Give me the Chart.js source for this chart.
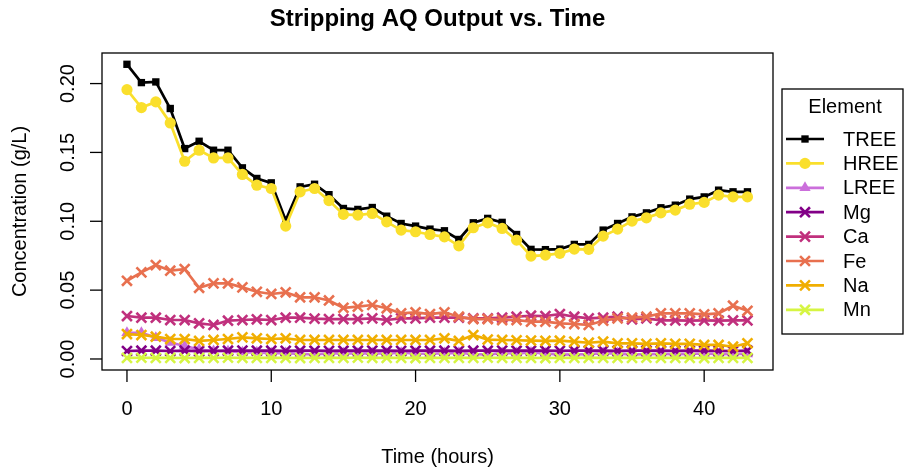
<!DOCTYPE html>
<html>
<head>
<meta charset="utf-8">
<script src="https://cdn.jsdelivr.net/npm/chart.js@4.4.0/dist/chart.umd.min.js"></script>
<style>
  html, body { margin: 0; padding: 0; background: #ffffff; }
  #wrap { width: 904px; height: 472px; position: relative; }
</style>
</head>
<body>
<div id="wrap"><canvas id="chart" width="904" height="472"></canvas></div>
<script>
// Sampling times (hours)
const hours = [0, 1, 2, 3, 4, 5, 6, 7, 8, 9, 10, 11, 12, 13, 14, 15, 16, 17, 18, 19, 20, 21,
               22, 23, 24, 25, 26, 27, 28, 29, 30, 31, 32, 33, 34, 35, 36, 37, 38, 39, 40, 41, 42, 43];

// Concentrations in the stripping aqueous output (g/L)
const TREE = [0.2140, 0.2007, 0.2012, 0.1819, 0.1528, 0.1581, 0.1516, 0.1516, 0.1388, 0.1311, 0.1279,
              0.1008, 0.1250, 0.1269, 0.1193, 0.1093, 0.1086, 0.1100, 0.1037, 0.0984, 0.0965, 0.0943,
              0.0931, 0.0868, 0.0989, 0.1021, 0.0992, 0.0904, 0.0796, 0.0794, 0.0798, 0.0832, 0.0832,
              0.0936, 0.0984, 0.1032, 0.1061, 0.1098, 0.1117, 0.1161, 0.1177, 0.1226, 0.1214, 0.1214];
const HREE = [0.1956, 0.1826, 0.1867, 0.1714, 0.1436, 0.1516, 0.1460, 0.1460, 0.1340, 0.1262, 0.1238,
              0.0965, 0.1214, 0.1238, 0.1150, 0.1050, 0.1045, 0.1057, 0.0996, 0.0936, 0.0924, 0.0904,
              0.0887, 0.0822, 0.0953, 0.0989, 0.0948, 0.0863, 0.0747, 0.0754, 0.0767, 0.0798, 0.0796,
              0.0892, 0.0943, 0.1001, 0.1025, 0.1061, 0.1081, 0.1124, 0.1137, 0.1190, 0.1177, 0.1177];
const LREE = [0.0190, 0.0190, 0.0155, 0.0120, 0.0094, 0.0068, 0.0058, 0.0056, 0.0048, 0.0048, 0.0042,
              0.0043, 0.0037, 0.0033, 0.0040, 0.0042, 0.0040, 0.0042, 0.0040, 0.0046, 0.0040, 0.0038,
              0.0043, 0.0045, 0.0036, 0.0032, 0.0044, 0.0041, 0.0047, 0.0040, 0.0032, 0.0034, 0.0036,
              0.0043, 0.0041, 0.0031, 0.0036, 0.0037, 0.0036, 0.0037, 0.0040, 0.0036, 0.0037, 0.0037];
const Mg   = [0.0058, 0.0060, 0.0060, 0.0058, 0.0060, 0.0057, 0.0059, 0.0060, 0.0061, 0.0060, 0.0060,
              0.0059, 0.0060, 0.0060, 0.0059, 0.0060, 0.0060, 0.0061, 0.0060, 0.0059, 0.0060, 0.0060,
              0.0060, 0.0059, 0.0060, 0.0060, 0.0061, 0.0060, 0.0060, 0.0060, 0.0059, 0.0060, 0.0060,
              0.0060, 0.0059, 0.0060, 0.0060, 0.0060, 0.0059, 0.0060, 0.0060, 0.0059, 0.0058, 0.0060];
const Ca   = [0.0312, 0.0300, 0.0300, 0.0283, 0.0283, 0.0259, 0.0247, 0.0278, 0.0283, 0.0288, 0.0283,
              0.0300, 0.0300, 0.0293, 0.0290, 0.0290, 0.0290, 0.0295, 0.0283, 0.0295, 0.0295, 0.0300,
              0.0300, 0.0300, 0.0295, 0.0295, 0.0300, 0.0307, 0.0314, 0.0312, 0.0326, 0.0307, 0.0295,
              0.0300, 0.0307, 0.0288, 0.0295, 0.0280, 0.0280, 0.0279, 0.0280, 0.0279, 0.0280, 0.0280];
const Fe   = [0.0568, 0.0629, 0.0682, 0.0641, 0.0653, 0.0517, 0.0549, 0.0549, 0.0520, 0.0488, 0.0472,
              0.0484, 0.0448, 0.0448, 0.0425, 0.0372, 0.0380, 0.0392, 0.0368, 0.0331, 0.0339, 0.0326,
              0.0339, 0.0307, 0.0290, 0.0290, 0.0283, 0.0283, 0.0271, 0.0271, 0.0259, 0.0254, 0.0247,
              0.0278, 0.0295, 0.0300, 0.0307, 0.0331, 0.0331, 0.0331, 0.0324, 0.0331, 0.0387, 0.0350];
const Na   = [0.0181, 0.0174, 0.0162, 0.0145, 0.0145, 0.0131, 0.0138, 0.0145, 0.0157, 0.0150, 0.0145,
              0.0150, 0.0138, 0.0138, 0.0138, 0.0138, 0.0138, 0.0138, 0.0138, 0.0138, 0.0138, 0.0138,
              0.0150, 0.0131, 0.0174, 0.0141, 0.0138, 0.0136, 0.0134, 0.0132, 0.0133, 0.0126, 0.0118,
              0.0126, 0.0114, 0.0114, 0.0110, 0.0114, 0.0110, 0.0110, 0.0102, 0.0102, 0.0089, 0.0114];
const Mn   = [0.0008, 0.0009, 0.0008, 0.0008, 0.0007, 0.0008, 0.0008, 0.0009, 0.0008, 0.0008, 0.0008,
              0.0008, 0.0007, 0.0008, 0.0008, 0.0008, 0.0009, 0.0008, 0.0008, 0.0008, 0.0007, 0.0008,
              0.0008, 0.0008, 0.0008, 0.0009, 0.0008, 0.0008, 0.0008, 0.0007, 0.0008, 0.0008, 0.0008,
              0.0008, 0.0008, 0.0008, 0.0009, 0.0008, 0.0008, 0.0008, 0.0007, 0.0008, 0.0008, 0.0008];

// Axis ticks and labels
const xTicks = [0, 10, 20, 30, 40];
const xTickLabels = ['0', '10', '20', '30', '40'];
const yTicks = [0, 0.05, 0.10, 0.15, 0.20];
const yTickLabels = ['0.00', '0.05', '0.10', '0.15', '0.20'];

const chartTitle = 'Stripping AQ Output vs. Time';
const xTitle = 'Time (hours)';
const yTitle = 'Concentration (g/L)';
const legendTitle = 'Element';

const seriesNames = ['TREE', 'HREE', 'LREE', 'Mg', 'Ca', 'Fe', 'Na', 'Mn'];
const seriesValues = [TREE, HREE, LREE, Mg, Ca, Fe, Na, Mn];
const seriesColors = ['#000000', '#FADF2C', '#CB6FDB', '#820087', '#C0307D', '#E8704F', '#F0AE00', '#D6F542'];
const seriesMarkers = ['rect', 'circle', 'triangle', 'crossRot', 'crossRot', 'crossRot', 'crossRot', 'crossRot'];

const FONT = '"Liberation Sans", Arial, Helvetica, sans-serif';

function markerProps(style, color) {
  if (style === 'rect') {
    return { pointStyle: 'rect', pointRadius: 5.2, pointBackgroundColor: color, pointBorderColor: color, pointBorderWidth: 0 };
  }
  if (style === 'circle') {
    return { pointStyle: 'circle', pointRadius: 5.6, pointBackgroundColor: color, pointBorderColor: color, pointBorderWidth: 0 };
  }
  if (style === 'triangle') {
    return { pointStyle: 'triangle', pointRadius: 6.5, pointBackgroundColor: color, pointBorderColor: color, pointBorderWidth: 0 };
  }
  return { pointStyle: 'crossRot', pointRadius: 7, pointBackgroundColor: color, pointBorderColor: color, pointBorderWidth: 2.6 };
}

const n = seriesNames.length;
const datasets = seriesNames.map((name, i) => Object.assign({
  label: name,
  data: hours.map((h, k) => ({ x: h, y: seriesValues[i][k] })),
  borderColor: seriesColors[i],
  backgroundColor: seriesColors[i],
  borderWidth: 2.7,
  tension: 0,
  fill: false,
  clip: false,
  order: n - 1 - i   // later series are painted on top
}, markerProps(seriesMarkers[i], seriesColors[i])));

// Axis furniture, plot frame, titles and legend
const frame = {
  id: 'frame',
  afterDraw(chart) {
    const ctx = chart.ctx;
    const a = chart.chartArea;
    const xs = chart.scales.x, ys = chart.scales.y;
    ctx.save();
    ctx.strokeStyle = '#000';
    ctx.fillStyle = '#000';
    ctx.lineWidth = 1.3;
    ctx.strokeRect(a.left, a.top, a.right - a.left, a.bottom - a.top);

    // x axis ticks
    ctx.font = '20px ' + FONT;
    ctx.textAlign = 'center';
    ctx.textBaseline = 'middle';
    xTicks.forEach((v, i) => {
      const px = xs.getPixelForValue(v);
      ctx.beginPath();
      ctx.moveTo(px, a.bottom);
      ctx.lineTo(px, a.bottom + 12);
      ctx.stroke();
      ctx.fillText(xTickLabels[i], px, 409);
    });

    // y axis ticks (labels parallel to the axis)
    yTicks.forEach((v, i) => {
      const py = ys.getPixelForValue(v);
      ctx.beginPath();
      ctx.moveTo(a.left, py);
      ctx.lineTo(a.left - 12, py);
      ctx.stroke();
      ctx.save();
      ctx.translate(68, py);
      ctx.rotate(-Math.PI / 2);
      ctx.fillText(yTickLabels[i], 0, 0);
      ctx.restore();
    });

    // titles
    const cx = (a.left + a.right) / 2;
    ctx.fillText(xTitle, cx, 457);
    ctx.save();
    ctx.translate(20, (a.top + a.bottom) / 2);
    ctx.rotate(-Math.PI / 2);
    ctx.fillText(yTitle, 0, 0);
    ctx.restore();
    ctx.font = 'bold 24px ' + FONT;
    ctx.fillText(chartTitle, cx, 19);

    // legend
    const lx = 782, ly = 89, lw = 121, lh = 245;
    ctx.lineWidth = 1.3;
    ctx.strokeRect(lx, ly, lw, lh);
    ctx.font = '20px ' + FONT;
    ctx.textAlign = 'center';
    ctx.fillText(legendTitle, 845, 107);
    ctx.textAlign = 'left';
    chart.data.datasets.forEach((ds, i) => {
      const y = 139 + 24.4 * i;
      ctx.strokeStyle = ds.borderColor;
      ctx.lineWidth = ds.borderWidth;
      ctx.beginPath();
      ctx.moveTo(786, y);
      ctx.lineTo(824, y);
      ctx.stroke();
      ctx.fillStyle = ds.pointBackgroundColor;
      ctx.strokeStyle = ds.pointBorderColor;
      ctx.lineWidth = ds.pointBorderWidth || 0.001;
      Chart.helpers.drawPoint(ctx, { pointStyle: ds.pointStyle, radius: ds.pointRadius, borderWidth: ds.pointBorderWidth }, 805, y);
      ctx.fillStyle = '#000';
      ctx.fillText(ds.label, 843, y + 1);
    });
    ctx.restore();
  }
};

new Chart(document.getElementById('chart'), {
  type: 'line',
  data: { datasets },
  options: {
    responsive: false,
    animation: false,
    layout: { padding: { left: 102, right: 131, top: 53, bottom: 102 } },
    scales: {
      x: { type: 'linear', display: false, min: -1.73, max: 44.77 },
      y: { type: 'linear', display: false, min: -0.0080, max: 0.2222 }
    },
    plugins: { legend: { display: false }, tooltip: { enabled: false }, title: { display: false } }
  },
  plugins: [frame]
});
</script>
</body>
</html>
